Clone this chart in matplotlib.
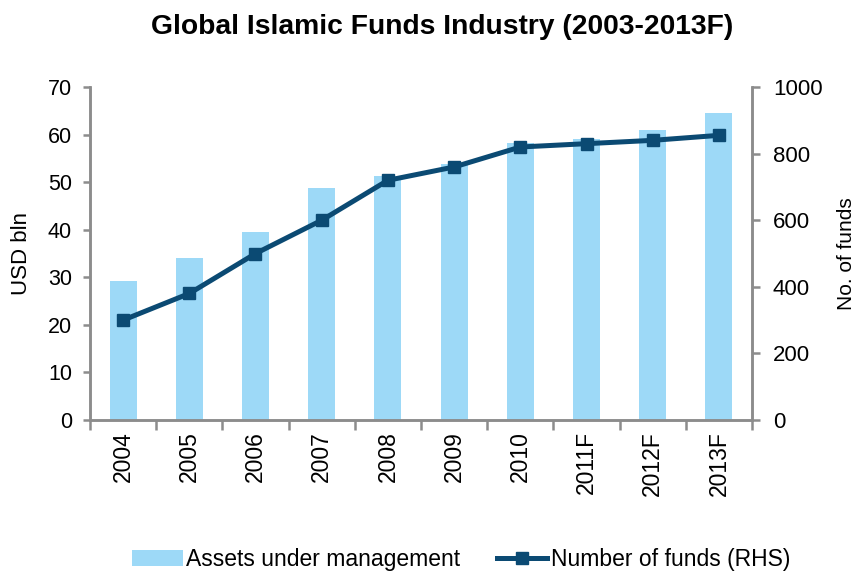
import numpy as np
import matplotlib.pyplot as plt

plt.rcParams['font.family'] = ['Liberation Sans', 'DejaVu Sans']

years = ["2004", "2005", "2006", "2007", "2008", "2009", "2010", "2011F", "2012F", "2013F"]
assets = [29.3, 34.1, 39.6, 48.8, 51.3, 53.8, 58.2, 59.0, 61.0, 64.5]
funds = [300, 380, 500, 600, 720, 760, 820, 830, 840, 855]

bar_color = "#9dd9f7"
line_color = "#0b4a73"
axis_color = "#8c8c8c"

fig = plt.figure(figsize=(8.62, 5.74), dpi=100)
ax = fig.add_axes([0.1044, 0.2683, 0.768, 0.580])
ax2 = ax.twinx()

x = np.arange(len(years))
bars = ax.bar(x, assets, width=0.41, color=bar_color, label="Assets under management", zorder=1)
line, = ax2.plot(x, funds, color=line_color, lw=3.6, marker="s", markersize=9,
                 label="Number of funds (RHS)")

ax.set_xlim(-0.5, len(years) - 0.5)
ax.set_ylim(0, 70)
ax.set_yticks(range(0, 71, 10))
ax2.set_ylim(0, 1000)
ax2.set_yticks(range(0, 1001, 200))

ax.set_xticks(x)
ax.set_xticklabels(years, rotation=90)
ax.set_xticks(np.arange(-0.5, len(years)), minor=True)
ax.tick_params(axis="x", which="major", length=0, pad=8, labelsize=16.5)
ax.tick_params(axis="x", which="minor", length=7, width=1.8, color=axis_color, direction="out")
ax.tick_params(axis="y", length=5, width=1.8, color=axis_color, labelsize=15.5, pad=8)
ax2.tick_params(axis="y", length=6, width=1.8, color=axis_color, labelsize=16, pad=9)

for a in (ax, ax2):
    a.spines["top"].set_visible(False)
    for s in ("left", "right", "bottom"):
        a.spines[s].set_color(axis_color)
        a.spines[s].set_linewidth(1.8)

ax.set_ylabel("USD bln", fontsize=16)
ax.yaxis.set_label_coords(-0.088, 0.5)
ax2.set_ylabel("No. of funds", fontsize=15)
ax2.yaxis.set_label_coords(1.128, 0.5)

fig.suptitle("Global Islamic Funds Industry (2003-2013F)", fontsize=20.3, fontweight="bold",
             x=0.513, y=0.975)

fig.legend(handles=[bars, line], loc="lower center", bbox_to_anchor=(0.535, -0.03), ncol=2,
           frameon=False, fontsize=16.5, handlelength=2.2, handletextpad=0.15, columnspacing=1.6)

fig.savefig("out.png", dpi=100)
